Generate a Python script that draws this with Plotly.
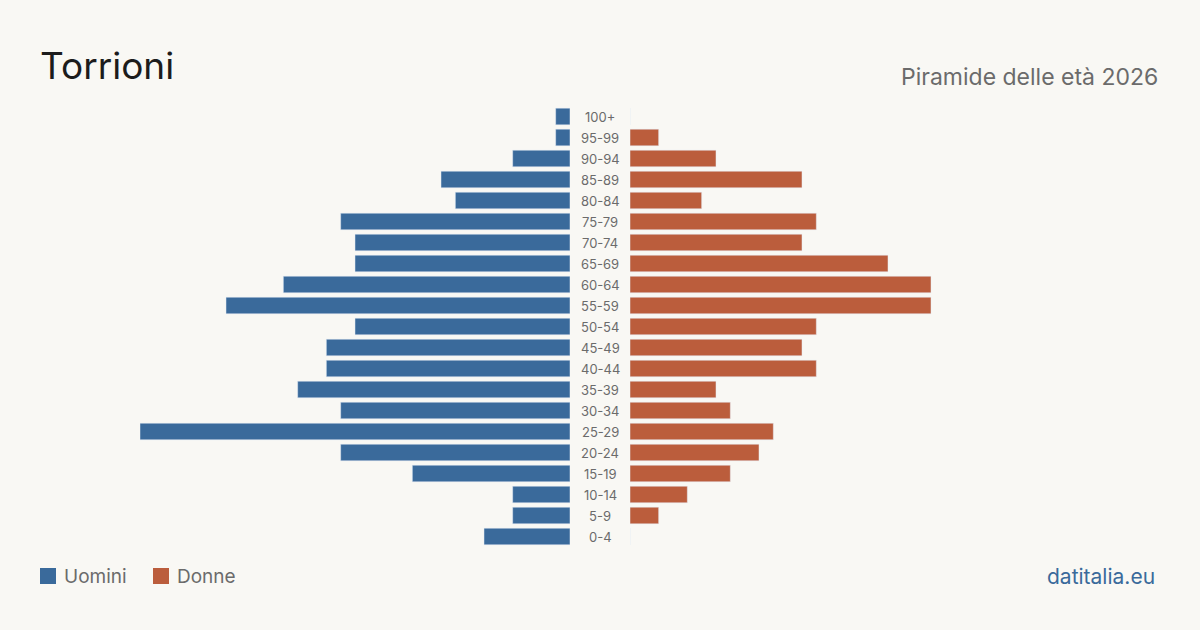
import plotly.graph_objects as go

age_groups = ["100+", "95-99", "90-94", "85-89", "80-84", "75-79", "70-74", "65-69",
              "60-64", "55-59", "50-54", "45-49", "40-44", "35-39", "30-34", "25-29",
              "20-24", "15-19", "10-14", "5-9", "0-4"]
men = [1, 1, 4, 9, 8, 16, 15, 15, 20, 24, 15, 17, 17, 19, 16, 30, 16, 11, 4, 4, 6]
women = [0, 2, 6, 12, 5, 13, 12, 18, 21, 21, 13, 12, 13, 6, 7, 10, 9, 7, 4, 2, 0]

title = "Torrioni"
subtitle = "Piramide delle età 2026"
legend_labels = ["Uomini", "Donne"]
source = "datitalia.eu"

BLUE = "#3a6a9b"
ORANGE = "#bb5d3c"
BG = "#f9f8f4"
FONT = "Inter"

W, H = 1200, 630
T, B = 106, 83
plot_h = H - T - B

def py(ypx):
    return (H - B - ypx) / plot_h

fig = go.Figure()
fig.add_trace(go.Bar(y=age_groups, x=men, orientation="h", marker_color=BLUE,
                     xaxis="x", yaxis="y", name=legend_labels[0], showlegend=False,
                     hoverinfo="x+y"))
fig.add_trace(go.Bar(y=age_groups, x=women, orientation="h", marker_color=ORANGE,
                     xaxis="x2", yaxis="y", name=legend_labels[1], showlegend=False,
                     hoverinfo="x+y"))

vmax = 30
annotations = []
for g in age_groups:
    annotations.append(dict(x=0.5, xref="paper", y=g, yref="y", text=g, showarrow=False,
                            xanchor="center", yanchor="middle",
                            font=dict(family=FONT, size=13, color="#6b6b6b")))

annotations += [
    dict(x=38 / W, xref="paper", y=py(65), yref="paper", text=title, showarrow=False,
         xanchor="left", yanchor="middle", font=dict(family=FONT, size=37, color="#1c1c1c")),
    dict(x=1160 / W, xref="paper", y=py(77), yref="paper", text=subtitle, showarrow=False,
         xanchor="right", yanchor="middle", font=dict(family=FONT, size=23, color="#6b6b6b")),
    dict(x=62 / W, xref="paper", y=py(576), yref="paper", text=legend_labels[0], showarrow=False,
         xanchor="left", yanchor="middle", font=dict(family=FONT, size=19, color="#6b6b6b")),
    dict(x=175 / W, xref="paper", y=py(576), yref="paper", text=legend_labels[1], showarrow=False,
         xanchor="left", yanchor="middle", font=dict(family=FONT, size=19, color="#6b6b6b")),
    dict(x=1157 / W, xref="paper", y=py(576), yref="paper", text=source, showarrow=False,
         xanchor="right", yanchor="middle", font=dict(family=FONT, size=21, color=BLUE)),
]

shapes = [
    dict(type="rect", xref="paper", yref="paper", x0=40 / W, x1=56 / W, y0=py(584), y1=py(568),
         fillcolor=BLUE, line=dict(width=0)),
    dict(type="rect", xref="paper", yref="paper", x0=153 / W, x1=169 / W, y0=py(584), y1=py(568),
         fillcolor=ORANGE, line=dict(width=0)),
]

fig.update_layout(
    width=W, height=H,
    margin=dict(l=0, r=0, t=T, b=B, pad=0),
    paper_bgcolor=BG, plot_bgcolor=BG,
    bargap=0.21,
    showlegend=False,
    xaxis=dict(domain=[140 / W, 570 / W], range=[vmax, 0], visible=False, fixedrange=True),
    xaxis2=dict(domain=[630 / W, 1060 / W], range=[0, vmax], visible=False, fixedrange=True),
    yaxis=dict(categoryorder="array", categoryarray=age_groups[::-1], visible=False,
               fixedrange=True),
    annotations=annotations,
    shapes=shapes,
)

fig.write_html("out.html")
